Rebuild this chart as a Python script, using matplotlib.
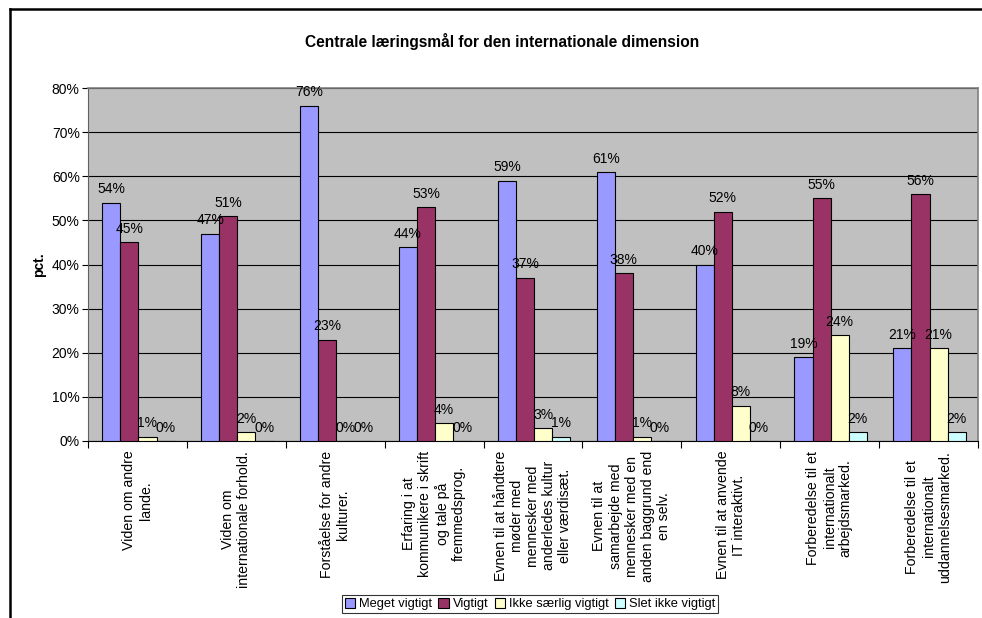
import matplotlib.pyplot as plt
import numpy as np
from matplotlib.lines import Line2D
from matplotlib.ticker import FixedLocator, PercentFormatter

plt.rcParams["font.family"] = ["Liberation Sans", "DejaVu Sans"]

# Data
categories = [
    "Viden om andre\nlande.",
    "Viden om\ninternationale forhold.",
    "Forståelse for andre\nkulturer.",
    "Erfaring i at\nkommunikere i skrift\nog tale på\nfremmedsprog.",
    "Evnen til at håndtere\nmøder med\nmennesker med\nanderledes kultur\neller værdisæt.",
    "Evnen til at\nsamarbejde med\nmennesker med en\nanden baggrund end\nen selv.",
    "Evnen til at anvende\nIT interaktivt.",
    "Forberedelse til et\ninternationalt\narbejdsmarked.",
    "Forberedelse til et\ninternationalt\nuddannelsesmarked.",
]
meget_vigtigt = [54, 47, 76, 44, 59, 61, 40, 19, 21]
vigtigt = [45, 51, 23, 53, 37, 38, 52, 55, 56]
ikke_saerlig = [1, 2, 0, 4, 3, 1, 8, 24, 21]
slet_ikke = [0, 0, 0, 0, 1, 0, 0, 2, 2]

series = [
    ("Meget vigtigt", meget_vigtigt, "#9999FF"),
    ("Vigtigt", vigtigt, "#993366"),
    ("Ikke særlig vigtigt", ikke_saerlig, "#FFFFCC"),
    ("Slet ikke vigtigt", slet_ikke, "#CCFFFF"),
]

fig = plt.figure(figsize=(9.82, 6.18), dpi=100)
ax = fig.add_axes([88 / 982, 1 - 441 / 618, 890 / 982, 353 / 618])
ax.set_facecolor("#C0C0C0")

x = np.arange(len(categories))
width = 0.183
for i, (name, vals, color) in enumerate(series):
    pos = x + 0.01 + (i - 1.5) * width
    bars = ax.bar(pos, vals, width, color=color, edgecolor="black",
                  linewidth=0.8, label=name, zorder=3)
    for b, v in zip(bars, vals):
        ax.annotate(f"{v}%", (b.get_x() + b.get_width() / 2, v),
                    xytext=(0, 4.5), textcoords="offset points",
                    ha="center", va="bottom", fontsize=10, zorder=4)

ax.set_xlim(-0.5, len(categories) - 0.5)
ax.set_ylim(0, 80)
ax.set_yticks(range(0, 81, 10))
ax.yaxis.set_major_formatter(PercentFormatter(decimals=0))
ax.yaxis.grid(True, color="black", linewidth=0.8, zorder=0)
ax.tick_params(axis="y", labelsize=10, length=4, width=0.8, pad=2)

# category separators as ticks, labels at centres
ax.xaxis.set_major_locator(FixedLocator(np.arange(-0.5, len(categories), 1.0)))
ax.set_xticklabels([])
ax.tick_params(axis="x", which="major", length=5, width=0.8)
ax.set_xticks(x, minor=True)
ax.set_xticklabels(categories, minor=True, rotation=90, fontsize=10.2,
                   va="top", ha="center", multialignment="center")
ax.tick_params(axis="x", which="minor", length=0, pad=7)

for side in ["top", "right"]:
    ax.spines[side].set_color("#808080")
    ax.spines[side].set_linewidth(1.2)
ax.spines["left"].set_color("#606060")
ax.spines["bottom"].set_color("black")

ax.set_ylabel("pct.", fontsize=10, fontweight="bold")
ax.yaxis.set_label_coords(-0.047, 0.5)

fig.text(502 / 982, 1 - 42 / 618, "Centrale læringsmål for den internationale dimension",
         ha="center", va="center", fontsize=11.2, fontweight="bold")

leg = fig.legend(loc="center", bbox_to_anchor=(530 / 982, 1 - 604 / 618), ncol=4,
                 fontsize=9.3, frameon=True, fancybox=False, edgecolor="black",
                 handlelength=0.8, handleheight=0.8, handletextpad=0.3,
                 columnspacing=0.5, borderpad=0.2, borderaxespad=0)
leg.get_frame().set_linewidth(0.8)

# outer chart frame (left and top edges visible)
fig.add_artist(Line2D([10 / 982, 10 / 982], [0, 1 - 9 / 618],
                      transform=fig.transFigure, color="black", linewidth=1.8))
fig.add_artist(Line2D([10 / 982, 1], [1 - 9 / 618, 1 - 9 / 618],
                      transform=fig.transFigure, color="black", linewidth=1.8))

fig.savefig("out.png", dpi=100)
